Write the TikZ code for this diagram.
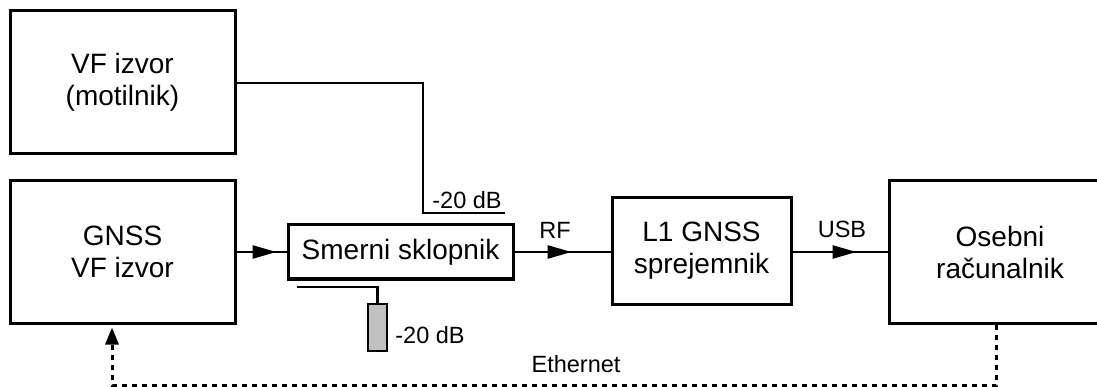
\documentclass[tikz,border=0pt]{standalone}
\usepackage{fontspec}
\setmainfont{Liberation Sans}
\usetikzlibrary{arrows.meta,decorations.markings}
\definecolor{attgray}{RGB}{192,192,192}
\tikzset{
  blk/.style={draw,line width=3pt,inner sep=0pt,align=center,font=\fontsize{28}{32}\selectfont},
  conn/.style={line width=2.6pt},
  lbl/.style={inner sep=0pt,font=\fontsize{23.5}{27}\selectfont},
  midarrow/.style={postaction={decorate},decoration={markings,mark=at position #1 with {\arrow{Triangle[length=24pt,width=13pt]}}}},
  eth/.style={line width=3pt,dash pattern=on 5pt off 5pt},
}
\begin{document}
\begin{tikzpicture}[x=1pt,y=-1pt]
\useasboundingbox (0,0) rectangle (1097,387);
% boxes
\node[blk,minimum width=225pt,minimum height=143pt] (vf) at (122.5,82.5) {VF izvor\\(motilnik)};
\node[blk,minimum width=225pt,minimum height=142pt] (gnss) at (122.5,252) {GNSS\\VF izvor};
\node[blk,minimum width=225pt,minimum height=54pt] (sm) at (400.5,252) {Smerni sklopnik};
\node[blk,minimum width=179pt,minimum height=106pt] (l1) at (701.5,251) {L1 GNSS\\sprejemnik};
\node[blk,minimum width=222pt,minimum height=142pt,text width=222pt] (pc) at (1000,252) {Osebni\\računalnik};
\node[draw,line width=2.6pt,fill=attgray,inner sep=0pt,minimum width=19pt,minimum height=47pt] (att) at (377.5,327.5) {};
% coupling port lines
\coordinate (c1) at (423,83);
\coordinate (c2) at (423,213);
\coordinate (c3) at (505,213);
\draw[conn] (vf.east |- c1) -- (c1) -- (c2) -- (c3);
\coordinate (d1) at (297,287);
\coordinate (d2) at (377.5,287);
\draw[conn] (d1) -- (d2) -- (att.north);
% main chain
\draw[conn,midarrow=40pt] (gnss.east |- sm.west) -- (sm.west);
\draw[conn,midarrow=57pt] (sm.east) -- (sm.east -| l1.west);
\draw[conn,midarrow=64pt] (l1.east |- sm.east) -- (l1.east |- sm.east -| pc.west);
% ethernet
\coordinate (e1) at (996,385);
\coordinate (e2) at (112,385);
\draw[eth,-{Triangle[length=17pt,width=13pt]},shorten >=3pt] (pc.south -| e1) -- (e1) -- (e2) -- (e2 |- gnss.south);
% labels
\node[lbl] (lab1) at (467,200) {-20 dB};
\node[lbl] (lab2) at (430,335) {-20 dB};
\node[lbl] (lrf) at (555,230) {RF};
\node[lbl] (lusb) at (842,229) {USB};
\node[lbl] (leth) at (576,364) {Ethernet};
\end{tikzpicture}
\end{document}
